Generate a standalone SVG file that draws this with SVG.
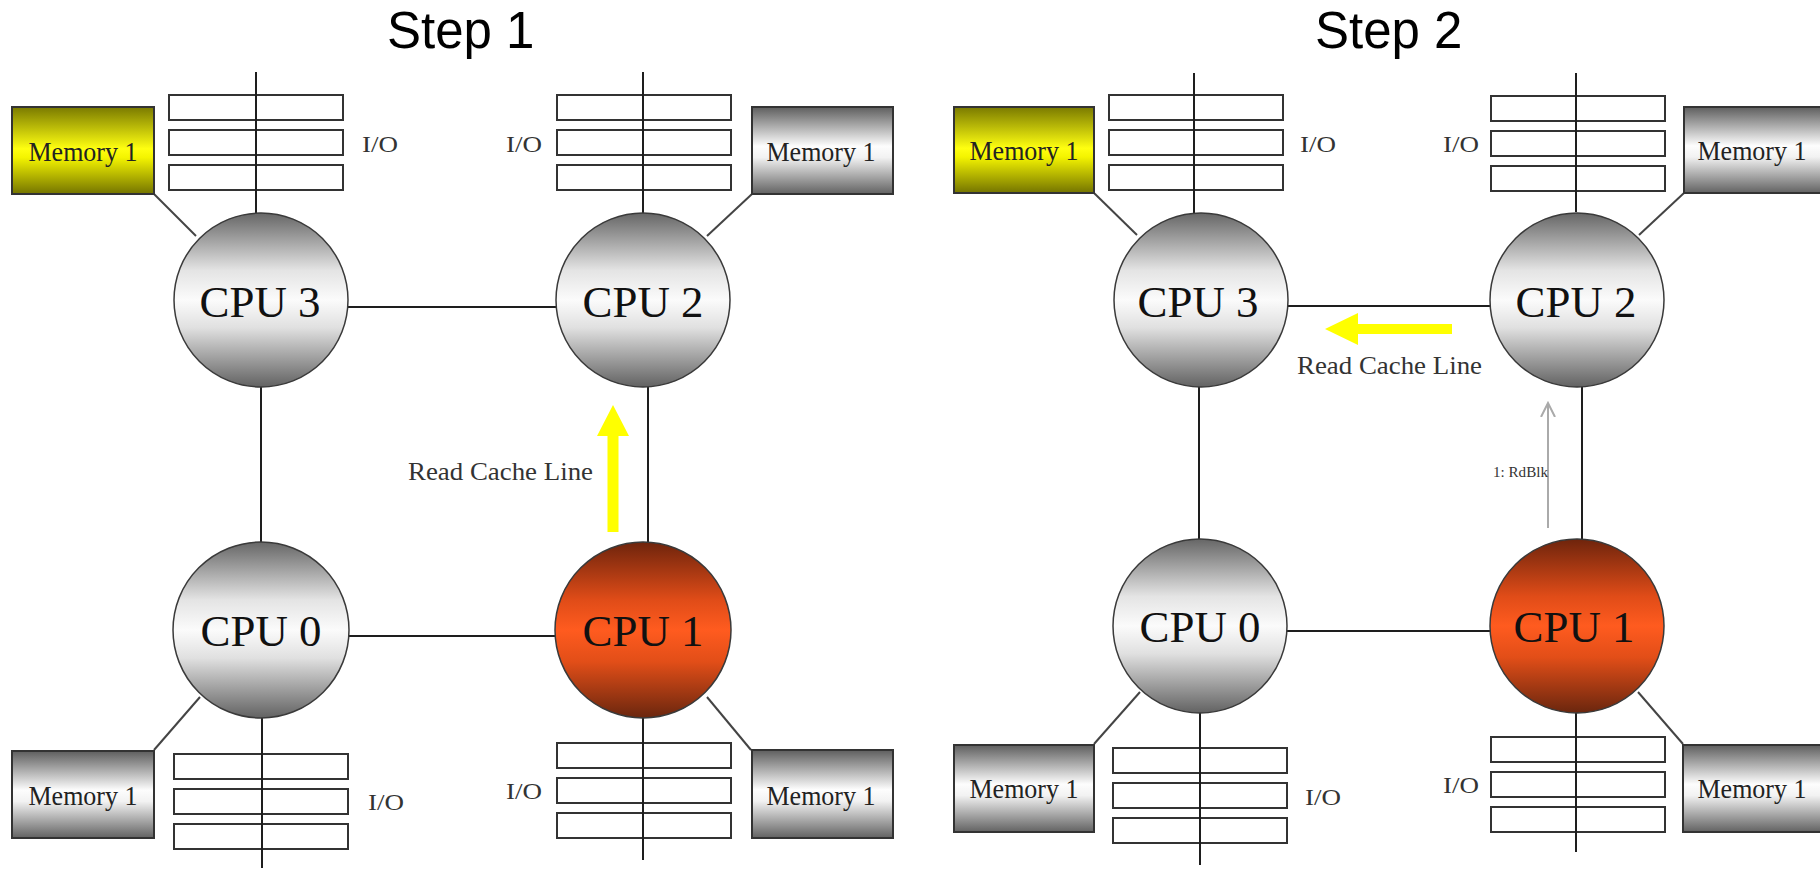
<svg xmlns="http://www.w3.org/2000/svg" width="1820" height="869" viewBox="0 0 1820 869">
  <defs>
    <linearGradient id="gCpu" x1="0" y1="0" x2="0" y2="1">
      <stop offset="0" stop-color="#666666"/>
      <stop offset="0.33" stop-color="#e4e4e4"/>
      <stop offset="0.5" stop-color="#fbfbfb"/>
      <stop offset="0.66" stop-color="#e0e0e0"/>
      <stop offset="1" stop-color="#626262"/>
    </linearGradient>
    <linearGradient id="gHot" x1="0" y1="0" x2="0" y2="1">
      <stop offset="0" stop-color="#6e240c"/>
      <stop offset="0.33" stop-color="#e04c18"/>
      <stop offset="0.5" stop-color="#ff5b1f"/>
      <stop offset="0.68" stop-color="#e24e18"/>
      <stop offset="1" stop-color="#6a260e"/>
    </linearGradient>
    <linearGradient id="gMem" x1="0" y1="0" x2="0" y2="1">
      <stop offset="0" stop-color="#5e5e5e"/>
      <stop offset="0.45" stop-color="#fdfdfd"/>
      <stop offset="0.58" stop-color="#f2f2f2"/>
      <stop offset="1" stop-color="#626262"/>
    </linearGradient>
    <linearGradient id="gMemHot" x1="0" y1="0" x2="0" y2="1">
      <stop offset="0" stop-color="#7a7a00"/>
      <stop offset="0.48" stop-color="#ffff10"/>
      <stop offset="0.58" stop-color="#f4f400"/>
      <stop offset="1" stop-color="#747400"/>
    </linearGradient>
    <marker id="openHead" viewBox="0 0 16 16" refX="14" refY="8" markerWidth="16" markerHeight="16" markerUnits="userSpaceOnUse" orient="auto">
      <path d="M0 1 L14 8 L0 15" fill="none" stroke="#aaaaaa" stroke-width="2"/>
    </marker>
    <!-- three stacked I/O slots -->
    <g id="ioStack" fill="#ffffff" stroke="#333333" stroke-width="2">
      <rect x="0" y="0" width="174" height="25"/>
      <rect x="0" y="35" width="174" height="25"/>
      <rect x="0" y="70" width="174" height="25"/>
    </g>
  </defs>
  <style>
    .title { font-family: "Liberation Sans", Arial, sans-serif; font-size: 51px; fill: #000; }
    .cpu { stroke: #3a3a3a; stroke-width: 1.5; }
    .cpuLabel { font-family: "Liberation Serif", "Times New Roman", serif; font-size: 45px; fill: #111; text-anchor: middle; }
    .mem { stroke: #333; stroke-width: 2; }
    .memLabel { font-family: "Liberation Serif", "Times New Roman", serif; font-size: 27px; fill: #222; text-anchor: middle; }
    .ioLabel { font-family: "Liberation Serif", "Times New Roman", serif; font-size: 24px; fill: #333; }
    .note { font-family: "Liberation Serif", "Times New Roman", serif; font-size: 26px; fill: #333; }
    .small { font-family: "Liberation Serif", "Times New Roman", serif; font-size: 14px; fill: #333; }
    .link { stroke: #1e1e1e; stroke-width: 2; fill: none; }
    .memLink { stroke: #444; stroke-width: 2; fill: none; }
    .flow { fill: #ffff00; }
    .msg { stroke: #aaaaaa; stroke-width: 2; fill: none; }
  </style>

  <rect width="1820" height="869" fill="#ffffff"/>

  <text class="title" x="387" y="48">Step 1</text>
  <text class="title" x="1315" y="48">Step 2</text>

  <!-- ===== Step 1 ===== -->
  <g id="step1-connectors">
    <line class="link" x1="348" y1="307" x2="556" y2="307"/>
    <line class="link" x1="348" y1="636" x2="556" y2="636"/>
    <line class="link" x1="261" y1="387" x2="261" y2="543"/>
    <line class="link" x1="648" y1="387" x2="648" y2="543"/>
    <line class="memLink" x1="154" y1="194" x2="196" y2="236"/>
    <line class="memLink" x1="752" y1="194" x2="707" y2="236"/>
    <line class="memLink" x1="154" y1="750" x2="200" y2="697"/>
    <line class="memLink" x1="707" y1="697" x2="751" y2="750"/>
    <path class="flow" d="M607.5 532 V436 H597 L613 405 L629 436 H618.5 V532 Z"/>
  </g>

  <g id="s1-io3">
    <use href="#ioStack" x="169" y="95"/>
    <line class="link" x1="256" y1="72" x2="256" y2="213"/>
    <text class="ioLabel" x="362" y="152" textLength="36" lengthAdjust="spacingAndGlyphs">I/O</text>
  </g>
  <g id="s1-io2">
    <use href="#ioStack" x="557" y="95"/>
    <line class="link" x1="643" y1="72" x2="643" y2="213"/>
    <text class="ioLabel" x="506" y="152" textLength="36" lengthAdjust="spacingAndGlyphs">I/O</text>
  </g>
  <g id="s1-io0">
    <use href="#ioStack" x="174" y="754"/>
    <line class="link" x1="262" y1="718" x2="262" y2="868"/>
    <text class="ioLabel" x="368" y="810" textLength="36" lengthAdjust="spacingAndGlyphs">I/O</text>
  </g>
  <g id="s1-io1">
    <use href="#ioStack" x="557" y="743"/>
    <line class="link" x1="643" y1="717" x2="643" y2="860"/>
    <text class="ioLabel" x="506" y="799" textLength="36" lengthAdjust="spacingAndGlyphs">I/O</text>
  </g>

  <g id="s1-mem3">
    <rect class="mem" x="12" y="107" width="142" height="87" fill="url(#gMemHot)"/>
    <text class="memLabel" x="83" y="161" textLength="109" lengthAdjust="spacingAndGlyphs">Memory 1</text>
  </g>
  <g id="s1-mem2">
    <rect class="mem" x="752" y="107" width="141" height="87" fill="url(#gMem)"/>
    <text class="memLabel" x="821" y="161" textLength="109" lengthAdjust="spacingAndGlyphs">Memory 1</text>
  </g>
  <g id="s1-mem0">
    <rect class="mem" x="12" y="751" width="142" height="87" fill="url(#gMem)"/>
    <text class="memLabel" x="83" y="805" textLength="109" lengthAdjust="spacingAndGlyphs">Memory 1</text>
  </g>
  <g id="s1-mem1">
    <rect class="mem" x="752" y="750" width="141" height="88" fill="url(#gMem)"/>
    <text class="memLabel" x="821" y="805" textLength="109" lengthAdjust="spacingAndGlyphs">Memory 1</text>
  </g>

  <g id="s1-cpu3">
    <circle class="cpu" cx="261" cy="300" r="87" fill="url(#gCpu)"/>
    <text class="cpuLabel" x="260" y="317" textLength="121" lengthAdjust="spacingAndGlyphs">CPU 3</text>
  </g>
  <g id="s1-cpu2">
    <circle class="cpu" cx="643" cy="300" r="87" fill="url(#gCpu)"/>
    <text class="cpuLabel" x="643" y="317" textLength="121" lengthAdjust="spacingAndGlyphs">CPU 2</text>
  </g>
  <g id="s1-cpu0">
    <circle class="cpu" cx="261" cy="630" r="88" fill="url(#gCpu)"/>
    <text class="cpuLabel" x="261" y="646" textLength="121" lengthAdjust="spacingAndGlyphs">CPU 0</text>
  </g>
  <g id="s1-cpu1">
    <circle class="cpu" cx="643" cy="630" r="88" fill="url(#gHot)" stroke="#4a1a08"/>
    <text class="cpuLabel" x="643" y="646" textLength="121" lengthAdjust="spacingAndGlyphs">CPU 1</text>
  </g>

  <text class="note" x="408" y="480" textLength="185" lengthAdjust="spacingAndGlyphs">Read Cache Line</text>

  <!-- ===== Step 2 ===== -->
  <g id="step2-connectors">
    <line class="link" x1="1287" y1="306" x2="1490" y2="306"/>
    <line class="link" x1="1286" y1="631" x2="1492" y2="631"/>
    <line class="link" x1="1199" y1="387" x2="1199" y2="539"/>
    <line class="link" x1="1582" y1="387" x2="1582" y2="539"/>
    <line class="memLink" x1="1094" y1="193" x2="1137" y2="235"/>
    <line class="memLink" x1="1684" y1="193" x2="1639" y2="235"/>
    <line class="memLink" x1="1094" y1="744" x2="1140" y2="692"/>
    <line class="memLink" x1="1638" y1="692" x2="1683" y2="744"/>
    <path class="flow" d="M1452 324 H1358 V313 L1325 329 L1358 345 V334 H1452 Z"/>
    <line class="msg" x1="1548" y1="528" x2="1548" y2="403" marker-end="url(#openHead)"/>
  </g>

  <g id="s2-io3">
    <use href="#ioStack" x="1109" y="95"/>
    <line class="link" x1="1194" y1="73" x2="1194" y2="213"/>
    <text class="ioLabel" x="1300" y="152" textLength="36" lengthAdjust="spacingAndGlyphs">I/O</text>
  </g>
  <g id="s2-io2">
    <use href="#ioStack" x="1491" y="96"/>
    <line class="link" x1="1576" y1="73" x2="1576" y2="212"/>
    <text class="ioLabel" x="1443" y="152" textLength="36" lengthAdjust="spacingAndGlyphs">I/O</text>
  </g>
  <g id="s2-io0">
    <use href="#ioStack" x="1113" y="748"/>
    <line class="link" x1="1200" y1="713" x2="1200" y2="865"/>
    <text class="ioLabel" x="1305" y="805" textLength="36" lengthAdjust="spacingAndGlyphs">I/O</text>
  </g>
  <g id="s2-io1">
    <use href="#ioStack" x="1491" y="737"/>
    <line class="link" x1="1576" y1="713" x2="1576" y2="852"/>
    <text class="ioLabel" x="1443" y="793" textLength="36" lengthAdjust="spacingAndGlyphs">I/O</text>
  </g>

  <g id="s2-mem3">
    <rect class="mem" x="954" y="107" width="140" height="86" fill="url(#gMemHot)"/>
    <text class="memLabel" x="1024" y="160" textLength="109" lengthAdjust="spacingAndGlyphs">Memory 1</text>
  </g>
  <g id="s2-mem2">
    <rect class="mem" x="1684" y="107" width="142" height="86" fill="url(#gMem)"/>
    <text class="memLabel" x="1752" y="160" textLength="109" lengthAdjust="spacingAndGlyphs">Memory 1</text>
  </g>
  <g id="s2-mem0">
    <rect class="mem" x="954" y="745" width="140" height="87" fill="url(#gMem)"/>
    <text class="memLabel" x="1024" y="798" textLength="109" lengthAdjust="spacingAndGlyphs">Memory 1</text>
  </g>
  <g id="s2-mem1">
    <rect class="mem" x="1683" y="745" width="142" height="87" fill="url(#gMem)"/>
    <text class="memLabel" x="1752" y="798" textLength="109" lengthAdjust="spacingAndGlyphs">Memory 1</text>
  </g>

  <g id="s2-cpu3">
    <circle class="cpu" cx="1201" cy="300" r="87" fill="url(#gCpu)"/>
    <text class="cpuLabel" x="1198" y="317" textLength="121" lengthAdjust="spacingAndGlyphs">CPU 3</text>
  </g>
  <g id="s2-cpu2">
    <circle class="cpu" cx="1577" cy="300" r="87" fill="url(#gCpu)"/>
    <text class="cpuLabel" x="1576" y="317" textLength="121" lengthAdjust="spacingAndGlyphs">CPU 2</text>
  </g>
  <g id="s2-cpu0">
    <circle class="cpu" cx="1200" cy="626" r="87" fill="url(#gCpu)"/>
    <text class="cpuLabel" x="1200" y="642" textLength="121" lengthAdjust="spacingAndGlyphs">CPU 0</text>
  </g>
  <g id="s2-cpu1">
    <circle class="cpu" cx="1577" cy="626" r="87" fill="url(#gHot)" stroke="#4a1a08"/>
    <text class="cpuLabel" x="1574" y="642" textLength="121" lengthAdjust="spacingAndGlyphs">CPU 1</text>
  </g>

  <text class="note" x="1297" y="374" textLength="185" lengthAdjust="spacingAndGlyphs">Read Cache Line</text>
  <text class="small" x="1493" y="477" textLength="55" lengthAdjust="spacingAndGlyphs">1: RdBlk</text>
</svg>
